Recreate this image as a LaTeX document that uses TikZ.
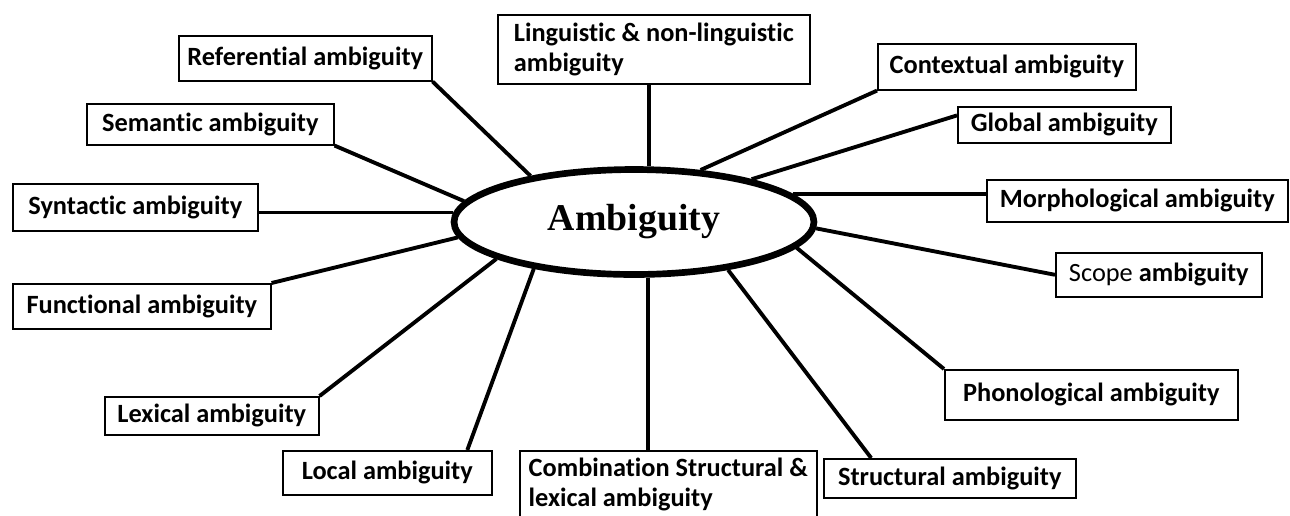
\documentclass[tikz,border=0pt]{standalone}
\usepackage{fontspec}
\newfontfamily\calibfont[Ligatures=NoCommon]{Carlito}
\newfontfamily\timesfont{Liberation Serif}
\usetikzlibrary{shapes.geometric,calc}

\begin{document}
\begin{tikzpicture}[
  x=0.02cm,y=-0.02cm,
  box/.style 2 args={draw,line width=0.9pt,anchor=north west,inner sep=0pt,
    minimum width=#1*0.02cm,minimum height=#2*0.02cm,align=left,
    font=\calibfont\bfseries\fontsize{15}{17}\selectfont},
  hub/.style={ellipse,draw,line width=3.8pt,inner sep=0pt,
    minimum width=7.2cm,minimum height=2.1cm,
    font=\timesfont\bfseries\fontsize{21.5}{24}\selectfont},
  spoke/.style={line width=2.2pt}
]
  \useasboundingbox (0,0) rectangle (1290,515);
  % centre
  \node[hub] (amb) at (634,222) {Ambiguity};
  % left side
  \node[box={253}{45}] (ref) at (178,35) {Referential ambiguity};
  \node[box={247}{41}] (sem) at (86,103) {Semantic ambiguity};
  \node[box={245}{47}] (syn) at (12,183) {Syntactic ambiguity};
  \node[box={258}{45}] (fun) at (12,283) {Functional ambiguity};
  \node[box={214}{38}] (lex) at (104,396) {Lexical ambiguity};
  \node[box={209}{44}] (loc) at (282,450) {Local ambiguity};
  % top and bottom
  \node[box={312}{69}] (lin) at (497,14)
    {Linguistic \& non-linguistic\\ambiguity};
  \node[box={297}{68}] (comb) at (519,450)
    {Combination Structural \&\\lexical ambiguity};
  % right side
  \node[box={258}{46}] (con) at (877,43) {Contextual ambiguity};
  \node[box={213}{36}] (glo) at (957,106) {Global ambiguity};
  \node[box={301}{42}] (mor) at (986,179) {Morphological ambiguity};
  \node[box={206}{44}] (sco) at (1055,252) {\mdseries Scope \bfseries ambiguity};
  \node[box={293}{50}] (pho) at (944,369) {Phonological ambiguity};
  \node[box={252}{39}] (str) at (823,458) {Structural ambiguity};
  % spokes
  \draw[spoke] (ref.south east) -- (amb.156.7);
  \draw[spoke] (sem.south east) -- (amb.173.8);
  \draw[spoke] (amb.177) -- (amb.177 -| syn.east);
  \draw[spoke] (fun.north east) -- (amb.185.9);
  \draw[spoke] (lex.north east) -- (amb.195.1);
  \draw[spoke] ($(loc.north west)!.88!(loc.north east)$) -- (amb.205.9);
  \draw[spoke] (amb.284.8) -- (amb.284.8 |- comb.north);
  \draw[spoke] ($(str.north west)!.19!(str.north east)$) -- (amb.333);
  \draw[spoke] (pho.north west) -- (amb.351.5);
  \draw[spoke] (sco.west) -- (amb.358);
  \draw[spoke] (amb.10) -- (amb.10 -| mor.west);
  \draw[spoke] ($(glo.north west)!.25!(glo.south west)$) -- (amb.20);
  \draw[spoke] (con.south west) -- (amb.38.2);
  \draw[spoke] (amb.75.2) -- (amb.75.2 |- lin.south);
\end{tikzpicture}
\end{document}
